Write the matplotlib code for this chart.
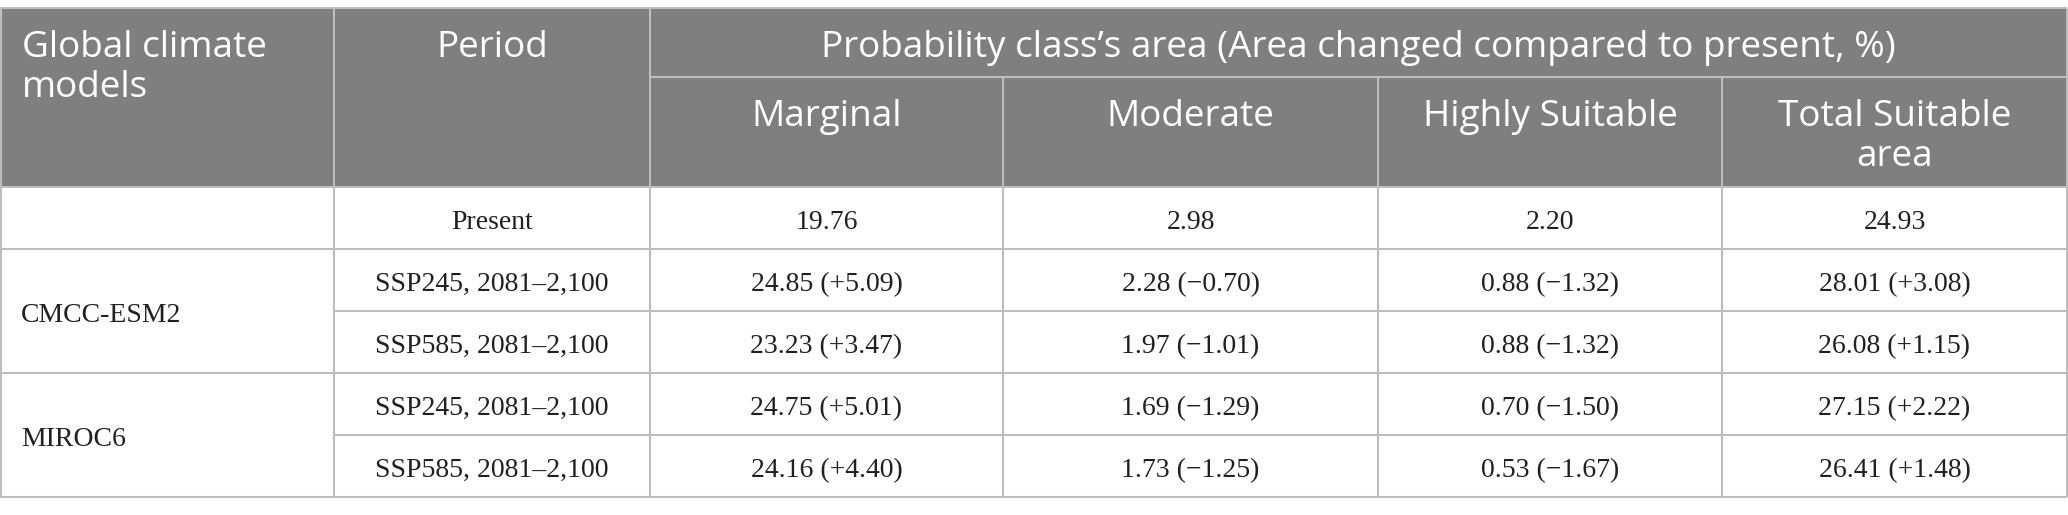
import matplotlib
matplotlib.use("Agg")
from matplotlib import pyplot as plt
from matplotlib.patches import Rectangle

# table content
models = ["", "CMCC-ESM2", "MIROC6"]
model_rows = [[0], [1, 2], [3, 4]]
periods = ["Present", "SSP245, 2081\u20132,100", "SSP585, 2081\u20132,100",
           "SSP245, 2081\u20132,100", "SSP585, 2081\u20132,100"]
class_names = ["Marginal", "Moderate", "Highly Suitable", "Total Suitable\narea"]
marginal = [19.76, 24.85, 23.23, 24.75, 24.16]
marginal_chg = [None, 5.09, 3.47, 5.01, 4.40]
moderate = [2.98, 2.28, 1.97, 1.69, 1.73]
moderate_chg = [None, -0.70, -1.01, -1.29, -1.25]
highly = [2.20, 0.88, 0.88, 0.70, 0.53]
highly_chg = [None, -1.32, -1.32, -1.50, -1.67]
total = [24.93, 28.01, 26.08, 27.15, 26.41]
total_chg = [None, 3.08, 1.15, 2.22, 1.48]

HEAD_1 = "Global climate\nmodels"
HEAD_2 = "Period"
HEAD_SPAN = "Probability class\u2019s area (Area changed compared to present, %)"

W, H = 2068, 515
col_x = [0, 334, 650, 1003, 1378, 1722, 2067]
top, sub, head_bot = 8, 77, 187
row_h = 62
row_y = [head_bot + i * row_h for i in range(6)]

HEAD_BG = "#7f807e"
LINE = "#bdbdbd"
TXT = "#231f20"
sans = ["Open Sans", "DejaVu Sans"]
serif = ["Liberation Serif", "DejaVu Serif"]
HFS = 26.6
BFS = 20
LINE_GAP = 40


def fmt(v, d):
    if d is None:
        return "%.2f" % v
    s = "+%.2f" % d if d >= 0 else "\u2212%.2f" % abs(d)
    return "%.2f (%s)" % (v, s)


fig = plt.figure(figsize=(W / 100, H / 100), dpi=100)
ax = fig.add_axes([0, 0, 1, 1])
ax.set_xlim(0, W)
ax.set_ylim(H, 0)
ax.axis("off")

ax.add_patch(Rectangle((0, top), col_x[-1], head_bot - top, facecolor=HEAD_BG, edgecolor="none"))


def hline(y, x0, x1):
    ax.plot([x0, x1], [y, y], color=LINE, lw=1.5, solid_capstyle="butt")


def vline(x, y0, y1):
    ax.plot([x, x], [y0, y1], color=LINE, lw=1.5, solid_capstyle="butt")


def head_text(s, x, y, ha):
    for k, line in enumerate(s.split("\n")):
        ax.text(x, y + k * LINE_GAP, line, ha=ha, va="baseline", color="white",
                fontsize=HFS, family=sans)


# header
head_text(HEAD_1, 22, top + 49, "left")
head_text(HEAD_2, (col_x[1] + col_x[2]) / 2, top + 49, "center")
head_text(HEAD_SPAN, (col_x[2] + col_x[-1]) / 2, top + 49, "center")
for j, name in enumerate(class_names):
    head_text(name, (col_x[j + 2] + col_x[j + 3]) / 2, sub + 49, "center")

# body
cols = [(marginal, marginal_chg), (moderate, moderate_chg),
        (highly, highly_chg), (total, total_chg)]
for i, per in enumerate(periods):
    yb = row_y[i] + 42
    ax.text((col_x[1] + col_x[2]) / 2, yb, per, ha="center", va="baseline",
            color=TXT, fontsize=BFS, family=serif)
    for j, (vals, chg) in enumerate(cols):
        ax.text((col_x[j + 2] + col_x[j + 3]) / 2, yb, fmt(vals[i], chg[i]),
                ha="center", va="baseline", color=TXT, fontsize=BFS, family=serif)

for name, rows in zip(models, model_rows):
    y0 = row_y[rows[0]]
    y1 = row_y[rows[-1] + 1]
    ax.text(21, (y0 + y1) / 2 + 11, name, ha="left", va="baseline",
            color=TXT, fontsize=BFS, family=serif)

# grid lines
hline(top, 0, col_x[-1])
hline(sub, col_x[2], col_x[-1])
hline(head_bot, 0, col_x[-1])
for i in range(1, 6):
    inner = any(i in r[1:] for r in model_rows)
    hline(row_y[i], col_x[1] if inner else 0, col_x[-1])
vline(col_x[0] + 0.5, top, row_y[-1])
vline(col_x[1], top, row_y[-1])
vline(col_x[2], top, row_y[-1])
for x in col_x[3:-1]:
    vline(x, sub, row_y[-1])
vline(col_x[-1], top, row_y[-1])

fig.savefig("out.png", dpi=100, facecolor="white")
